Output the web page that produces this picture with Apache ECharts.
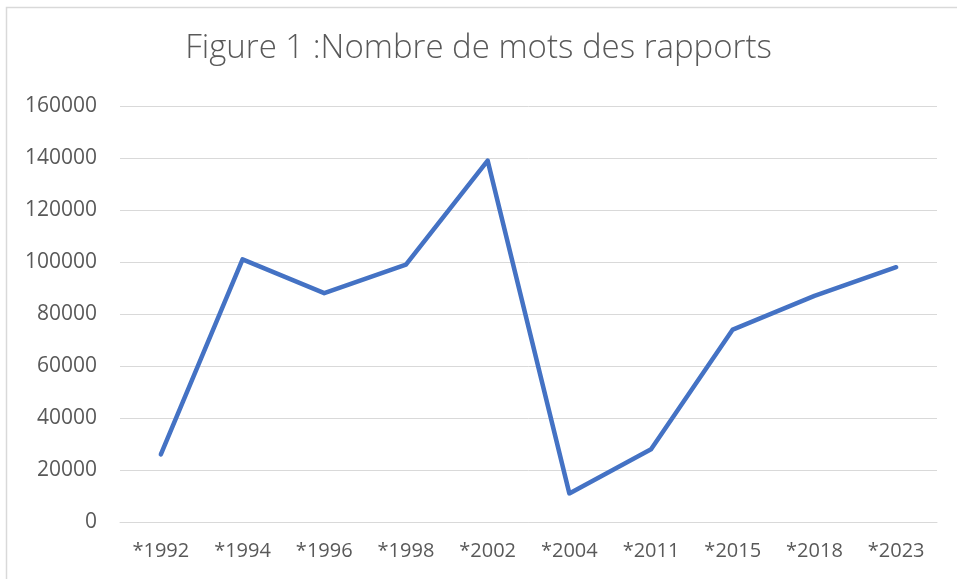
<!DOCTYPE html>
<html>
<head>
<meta charset="utf-8">
<script src="https://cdn.jsdelivr.net/npm/echarts@6/dist/echarts.min.js"></script>
<style>
    html, body { margin: 0; padding: 0; background: #fff; }
    #chart { width: 957px; height: 579px; }
</style>
</head>
<body>
<div id="chart"></div>
<script>
// data
const years = ['*1992', '*1994', '*1996', '*1998', '*2002', '*2004', '*2011', '*2015', '*2018', '*2023'];
const wordCounts = [26000, 101000, 88000, 99000, 139000, 11000, 28000, 74000, 87000, 98000];
const yTicks = { min: 0, max: 160000, interval: 20000 };

const chart = echarts.init(document.getElementById('chart'));

const option = {
    backgroundColor: '#fff',
    title: {
        text: 'Figure 1 :Nombre de mots des rapports',
        left: 'center',
        top: 27,
        textStyle: {
            fontFamily: 'Open Sans',
            fontWeight: 300,
            fontSize: 33,
            color: '#595959'
        }
    },
    graphic: [{
        type: 'rect',
        shape: { x: 6.5, y: 7.5, width: 980, height: 600 },
        style: { fill: 'none', stroke: '#d9d9d9', lineWidth: 1.5 },
        silent: true
    }],
    grid: {
        left: 120,
        right: 20,
        top: 106,
        bottom: 57
    },
    xAxis: {
        type: 'category',
        data: years,
        boundaryGap: true,
        axisLine: { show: true, lineStyle: { color: '#d9d9d9', width: 1 } },
        axisTick: { show: false },
        axisLabel: {
            margin: 19,
            fontFamily: 'Open Sans',
            fontSize: 20,
            color: '#595959'
        }
    },
    yAxis: {
        type: 'value',
        min: yTicks.min,
        max: yTicks.max,
        interval: yTicks.interval,
        axisLine: { show: false },
        axisTick: { show: false },
        splitLine: { lineStyle: { color: '#d9d9d9', width: 1 } },
        axisLabel: {
            margin: 23,
            fontFamily: 'Open Sans',
            fontSize: 21,
            color: '#595959',
            formatter: v => String(v)
        }
    },
    series: [{
        type: 'line',
        data: wordCounts,
        symbol: 'none',
        lineStyle: {
            color: '#4472C4',
            width: 4.5,
            cap: 'round',
            join: 'round'
        },
        animation: false
    }]
};

chart.setOption(option);
</script>
</body>
</html>
